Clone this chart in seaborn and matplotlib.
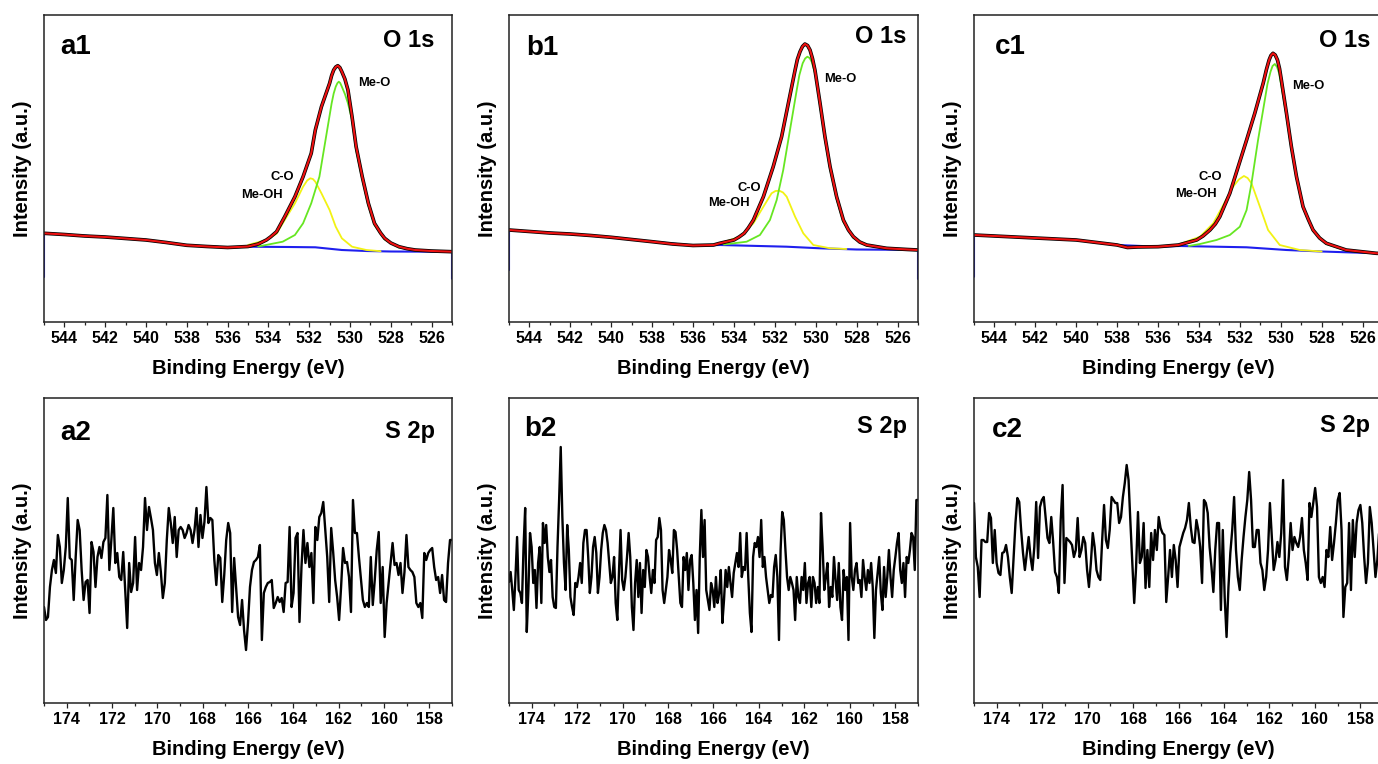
import numpy as np
import matplotlib
matplotlib.use('Agg')
import matplotlib.pyplot as plt
from matplotlib.ticker import MultipleLocator
import seaborn as sns

# ── Стиль ─────────────────────────────────────────────────────────────────────
sns.set_style('ticks')
plt.rcParams['font.family'] = ['Liberation Sans', 'DejaVu Sans']
plt.rcParams.update({
    'font.weight': 'bold',
    'axes.labelweight': 'bold',
    'text.color': 'black',
    'axes.labelcolor': 'black',
    'xtick.color': '#222222',
    'xtick.labelcolor': 'black',
})

C_DATA = '#000000'
C_FIT = '#ee1111'
C_MEO = '#66e622'
C_CO = '#f2f214'
C_BG = '#1f1fee'

# ── O 1s, панель a1 ───────────────────────────────────────────────────────────
a1_env_x = [545, 544, 543, 542, 541, 540, 539, 538, 537, 536, 535, 534.5, 534.1, 533.9,
            533.6, 533.2, 532.7, 532.3, 531.9, 531.7, 531.4, 531.0, 530.9, 530.8, 530.7,
            530.6, 530.5, 530.4, 530.25, 530.1, 529.9, 529.7, 529.4, 529.1, 528.8, 528.5,
            528.3, 528.0, 527.6, 527.2, 526.8, 526, 525]
a1_env_y = [88.7, 87.5, 86, 85, 83.5, 82, 79.5, 76.7, 75.5, 74.5, 75.5, 78, 82, 85,
            90.3, 105.3, 125.3, 145.3, 168.7, 192, 215.3, 238.7, 246.5, 252, 255,
            256.3, 254.5, 250.3, 243, 232, 205.3, 175.3, 145.3, 118.7, 98.7, 89,
            83.7, 79, 75.3, 73.3, 72, 71, 70.3]
a1_meo_x = [534.5, 533.3, 532.7, 532.3, 531.9, 531.5, 531.2, 530.9, 530.8, 530.7, 530.62,
            530.55, 530.48, 530.4, 530.25, 530.1, 529.9, 529.7, 529.4, 529.1, 528.8, 528.3,
            527.6, 526.8, 526]
a1_meo_y = [75.5, 80.3, 87, 98.7, 118.7, 145.3, 182, 218.7, 228.5, 235.3, 238.8,
            240.3, 239, 235.3, 228, 218.7, 202, 172, 143, 116.5, 97, 82.5,
            74.5, 71.5, 70.8]
a1_co_x = [535, 534.1, 533.6, 533.2, 532.7, 532.3, 532.1, 531.95, 531.82, 531.7, 531.4,
           531.0, 530.7, 530.4, 529.9, 529.2, 528.5]
a1_co_y = [77, 82, 88.3, 102, 118.7, 135.3, 141.5, 143.7, 143, 140.3, 128.7,
           112, 95.3, 83.7, 75.3, 72, 70.8]
a1_bg_x = [545, 545, 544, 542, 540, 538, 536, 535, 533, 531.7, 530.4, 529.2, 528, 526, 525, 525]
a1_bg_y = [45, 88.7, 87.5, 85, 82, 76.7, 74.5, 75.3, 75, 74.7, 72, 71, 70.5, 70.3, 70, 43.3]

# ── O 1s, панель b1 ───────────────────────────────────────────────────────────
b1_env_x = [545, 544, 543, 542, 541, 540, 539, 538, 537, 536, 535, 534.7, 534.0, 533.75,
            533.5, 533.3, 533.05, 532.56, 532.08, 531.67, 531.34, 531.01, 530.9, 530.77,
            530.65, 530.53, 530.4, 530.28, 530.16, 530.04, 529.79, 529.55, 529.30, 528.98,
            528.65, 528.4, 528.16, 527.85, 527.51, 526.53, 525.5, 525]
b1_env_y = [92, 90.5, 89, 88, 86.5, 84.7, 82.5, 80.3, 78, 76.5, 77, 78.7, 82, 85,
            88.7, 94, 102, 125.3, 155.3, 185.3, 218.7, 252, 262.5, 270.3,
            275.5, 278, 276.5, 272, 263.5, 252, 218.7, 185.3, 155.3, 125.3,
            102, 92, 85.3, 80, 77, 73.7, 72.5, 72]
b1_meo_x = [534.5, 533.38, 532.73, 532.24, 531.91, 531.59, 531.26, 530.93, 530.8, 530.64,
            530.52, 530.41, 530.3, 530.2, 530.08, 529.95, 529.79, 529.55, 529.3, 528.98,
            528.65, 528.16, 527.51, 526.53, 525.8]
b1_meo_y = [77.5, 80.3, 87, 102, 122, 152, 192, 232, 247, 258.7,
            263.5, 265.3, 264, 260.3, 252, 242, 216, 183, 153, 123,
            100, 84, 76.5, 73.5, 72.5]
b1_co_x = [534.68, 533.7, 533.05, 532.56, 532.16, 531.97, 531.78, 531.6, 531.42, 531.01,
           530.61, 530.12, 529.3, 528.5]
b1_co_y = [78.7, 85.3, 98.7, 115.3, 128.7, 131, 131.3, 129.5, 125.3, 105.3,
           88.7, 77, 73.7, 73]
b1_bg_x = [545, 545, 544, 542, 540, 538, 536, 534.68, 531.42, 529.79, 528, 526, 525, 525]
b1_bg_y = [52, 92, 90.5, 88, 84.7, 80.3, 76.5, 77, 75.3, 73.7, 72.5, 72.2, 72, 43]

# ── O 1s, панель c1 ───────────────────────────────────────────────────────────
c1_env_x = [545, 544, 543, 542, 541, 540, 539, 538, 537.5, 537, 536, 535, 534.11, 533.8,
            533.46, 533.2, 532.98, 532.49, 532.08, 531.67, 531.27, 530.86, 530.7, 530.57,
            530.48, 530.38, 530.27, 530.16, 530.06, 529.97, 529.72, 529.48, 529.23, 528.91,
            528.65, 528.42, 528.1, 527.77, 526.8, 525.33, 525]
c1_env_y = [87, 86, 85, 84, 83, 82, 79.5, 77, 74.5, 75, 75.3, 77, 82, 86,
            92, 98, 105.3, 128.7, 155.3, 182, 208.7, 238.7, 252.5, 262,
            266.5, 268.7, 267, 262, 253.5, 242, 208.7, 175.3, 145.3, 115.3,
            102.5, 92, 84, 78.7, 72, 68.7, 68.5]
c1_meo_x = [534.5, 533.95, 533.14, 532.49, 532.0, 531.67, 531.43, 531.11, 530.78, 530.65,
            530.5, 530.4, 530.29, 530.18, 530.08, 529.85, 529.72, 529.48, 529.23, 528.91,
            528.42, 527.77, 526.8, 525.5]
c1_meo_y = [76, 78, 82, 87, 95.3, 112, 138.7, 182, 222, 238,
            250.3, 256, 258, 255, 248.7, 222, 206, 173, 144, 114,
            91, 78, 71.5, 68.8]
c1_co_x = [534.93, 533.95, 533.3, 532.81, 532.33, 532.05, 531.8, 531.62, 531.43, 531.02,
           530.62, 530.05, 529.07, 528]
c1_co_y = [78, 85.3, 98.7, 117, 135.3, 142.5, 146, 144, 138.7, 115.3,
           92, 77, 72, 70.5]
c1_bg_x = [545, 545, 544, 542, 540, 538, 536, 534.93, 531.67, 529.72, 528, 526, 525, 525]
c1_bg_y = [45.3, 87, 86, 84, 82, 77, 75.3, 76, 74.7, 72, 70.5, 69.2, 68.7, 43]

# ── S 2p (рівномірний крок від 175 до 157 eV) ─────────────────────────────────
a2_y = [96, 83, 86, 116, 133, 143, 130, 168, 156, 120, 133, 156, 205, 145, 143, 103, 146,
        183, 173, 133, 103, 121, 123, 90, 161, 151, 116, 146, 156, 145, 161, 165, 208, 133,
        163, 195, 140, 150, 126, 123, 151, 113, 75, 140, 111, 120, 166, 113, 140, 133, 156,
        205, 173, 196, 185, 173, 140, 128, 150, 131, 105, 120, 163, 195, 180, 160, 186, 146,
        173, 176, 173, 165, 170, 178, 173, 160, 173, 195, 156, 188, 165, 181, 216, 180, 185,
        183, 143, 118, 148, 145, 101, 128, 163, 180, 170, 91, 145, 116, 86, 78, 103, 73, 53,
        80, 116, 133, 141, 143, 146, 158, 63, 110, 116, 120, 121, 123, 95, 100, 106, 101, 105,
        91, 120, 121, 176, 96, 110, 165, 170, 81, 136, 173, 140, 160, 136, 150, 100, 176, 163,
        186, 190, 201, 173, 146, 101, 175, 151, 123, 106, 83, 116, 155, 140, 141, 126, 91, 203,
        170, 170, 146, 125, 103, 96, 100, 96, 146, 98, 123, 153, 171, 100, 136, 66, 100, 120,
        140, 160, 138, 140, 128, 140, 110, 131, 168, 136, 133, 131, 126, 100, 96, 100, 85, 150,
        143, 150, 153, 155, 136, 123, 126, 110, 128, 103, 101, 140, 163, 163]

b2_y = [121, 131, 113, 93, 126, 166, 113, 110, 100, 156, 195, 71, 113, 170, 156, 120, 133,
        95, 140, 156, 100, 180, 160, 178, 146, 131, 143, 106, 96, 95, 156, 203, 256,
        186, 140, 113, 178, 153, 106, 96, 88, 120, 116, 126, 140, 120, 160, 173, 173, 146, 110,
        126, 156, 166, 150, 110, 126, 153, 170, 178, 173, 160, 140, 120, 126, 146, 100, 83,
        130, 173, 123, 113, 126, 146, 170, 146, 96, 73, 120, 143, 106, 140, 90, 133, 116, 153,
        146, 126, 110, 133, 120, 163, 166, 185, 173, 113, 100, 113,
        126, 153, 143, 130, 173, 171, 153, 126, 100, 96, 146, 133, 150, 113, 143, 148, 120, 83,
        113, 70, 146, 193, 146, 183, 113, 103, 93, 120, 113, 96, 126, 100, 110, 133, 80, 103,
        133, 116, 136, 120, 106, 130, 140, 150, 136, 170, 126, 136, 133, 170, 126, 90, 71, 146,
        160, 156, 166, 146, 183, 136, 146, 126, 113, 100, 108, 106, 136, 148, 126, 63, 153, 191,
        183, 153, 126, 113, 126, 120, 113, 83, 126, 106, 100, 126, 113, 140, 100, 120, 126, 96,
        126, 120, 100, 116, 100, 190, 156, 113, 126, 140, 96, 116, 106, 146, 123, 103, 140, 96,
        83, 133, 113, 126, 63, 180, 126, 113, 133, 140, 120, 123, 106, 143, 126, 113, 133, 120,
        140, 116, 65, 113, 130, 146, 110, 93, 136, 106, 126, 153, 126, 106, 133, 146, 160, 170,
        133, 120, 140, 106, 146, 140, 153, 170, 166, 133, 203, 203]

c2_y = [200, 146, 136, 106, 163, 163, 161, 161, 190, 185, 140, 173, 140, 130, 128, 150, 151,
        158, 146, 126, 110, 146, 180, 205, 201, 173, 150, 133, 150, 166, 146, 133, 156, 201,
        145, 196, 203, 206, 186, 165, 160, 186, 161, 131, 126, 110, 183, 218, 120, 165, 163,
        161, 158, 146, 153, 185, 146, 153, 166, 160, 133, 116, 140, 170, 156, 133, 126, 123,
        163, 198, 163, 155, 173, 206, 203, 200, 200, 180, 186, 206, 220, 238, 223, 180, 140,
        100, 136, 191, 140, 146, 180, 115, 153, 116, 170, 143, 173, 153, 186, 175, 170, 168,
        101, 126, 153, 126, 158, 143, 116, 156, 163, 170, 175, 183, 200, 176, 161, 160, 183,
        173, 156, 120, 203, 200, 190, 156, 136, 111, 153, 180, 180, 93, 173, 106, 66, 116, 150,
        173, 206, 153, 126, 113, 143, 166, 186, 203, 231, 203, 156, 156, 173, 173, 140, 133,
        113, 126, 153, 200, 166, 133, 143, 161, 146, 170, 223, 136, 123, 146, 180, 153, 166,
        160, 156, 166, 185, 153, 140, 123, 200, 186, 200, 215, 196, 126, 120, 126, 116, 153,
        146, 176, 143, 160, 180, 203, 210, 173, 86, 116, 120, 180, 113, 183, 146, 180, 193,
        198, 180, 146, 120, 140, 196, 180, 153, 126, 143, 173, 176, 173]

# ── Розкладка (пікселі → частки фігури) ──────────────────────────────────────
W, H = 1378, 764
col_left = [44, 509, 974]
col_width = [408, 409, 409]
row_top = [(15, 322), (398, 703)]


def make_ax(fig, col, row):
    top, bottom = row_top[row]
    return fig.add_axes([col_left[col] / W, 1 - bottom / H,
                         col_width[col] / W, (bottom - top) / H])


def style_ax(ax, xlim, ylim, tag, region, tag_pos, reg_pos):
    ax.set_xlim(*xlim)
    ax.set_ylim(*ylim)
    ax.set_yticks([])
    ax.xaxis.set_major_locator(MultipleLocator(2))
    ax.xaxis.set_minor_locator(MultipleLocator(1))
    ax.tick_params(axis='x', which='major', direction='out', length=3.6, width=0.9,
                   labelsize=11.5, pad=3)
    ax.tick_params(axis='x', which='minor', direction='out', length=2.2, width=0.9)
    for sp in ax.spines.values():
        sp.set_visible(True)
        sp.set_linewidth(1.1)
        sp.set_color('#222222')
    ax.set_xlabel('Binding Energy (eV)', fontsize=14.5, fontweight='bold', labelpad=9)
    ax.set_ylabel('Intensity (a.u.)', fontsize=14.5, fontweight='bold', labelpad=8.5)
    ax.text(tag_pos[0], tag_pos[1], tag, transform=ax.transAxes, fontsize=20,
            fontweight='bold', ha='left', va='center')
    ax.text(reg_pos[0], reg_pos[1], region, transform=ax.transAxes, fontsize=17,
            fontweight='bold', ha='right', va='center')


def line(ax, x, y, color, lw):
    sns.lineplot(x=x, y=y, ax=ax, color=color, linewidth=lw, sort=False,
                 estimator=None, legend=False)


def draw_o1s(ax, env_x, env_y, meo_x, meo_y, co_x, co_y, bg_x, bg_y, ann):
    line(ax, bg_x, bg_y, C_BG, 1.5)
    line(ax, co_x, co_y, C_CO, 1.3)
    line(ax, meo_x, meo_y, C_MEO, 1.3)
    line(ax, env_x, env_y, C_DATA, 2.6)
    line(ax, env_x, env_y, C_FIT, 1.5)
    (mx, my), (cx, cy), (hx, hy) = ann
    ax.text(mx, my, 'Me-O', fontsize=9.3, fontweight='bold', ha='left', va='center')
    ax.text(cx, cy, 'C-O', fontsize=9.3, fontweight='bold', ha='right', va='center')
    ax.text(hx, hy, 'Me-OH', fontsize=9.3, fontweight='bold', ha='right', va='center')


fig = plt.figure(figsize=(W / 100, H / 100), dpi=100)
fig.patch.set_facecolor('white')

o1s = [
    (a1_env_x, a1_env_y, a1_meo_x, a1_meo_y, a1_co_x, a1_co_y, a1_bg_x, a1_bg_y,
     [(529.6, 238.7), (532.75, 145.3), (533.3, 127.5)], 'a1', (0.039, 0.897), (0.958, 0.918)),
    (b1_env_x, b1_env_y, b1_meo_x, b1_meo_y, b1_co_x, b1_co_y, b1_bg_x, b1_bg_y,
     [(529.6, 242.7), (532.68, 134.3), (533.23, 118.7)], 'b1', (0.043, 0.891), (0.972, 0.929)),
    (c1_env_x, c1_env_y, c1_meo_x, c1_meo_y, c1_co_x, c1_co_y, c1_bg_x, c1_bg_y,
     [(529.43, 236), (532.86, 145.3), (533.11, 127.7)], 'c1', (0.051, 0.897), (0.968, 0.918)),
]
for col, (ex, ey, mx, my, cx, cy, bx, by, ann, tag, tpos, rpos) in enumerate(o1s):
    ax = make_ax(fig, col, 0)
    draw_o1s(ax, ex, ey, mx, my, cx, cy, bx, by, ann)
    style_ax(ax, (545, 525), (0, 307), tag, 'O 1s', tpos, rpos)

s2p = [
    (a2_y, 'a2', (0.040, 0.884), (0.958, 0.889)),
    (b2_y, 'b2', (0.037, 0.900), (0.972, 0.906)),
    (c2_y, 'c2', (0.043, 0.895), (0.968, 0.911)),
]
for col, (sy, tag, tpos, rpos) in enumerate(s2p):
    ax = make_ax(fig, col, 1)
    sx = np.linspace(175, 157, len(sy))
    line(ax, sx, sy, C_DATA, 1.7)
    style_ax(ax, (175, 157), (0, 305), tag, 'S 2p', tpos, rpos)

fig.savefig('out.png', dpi=100, facecolor='white')
